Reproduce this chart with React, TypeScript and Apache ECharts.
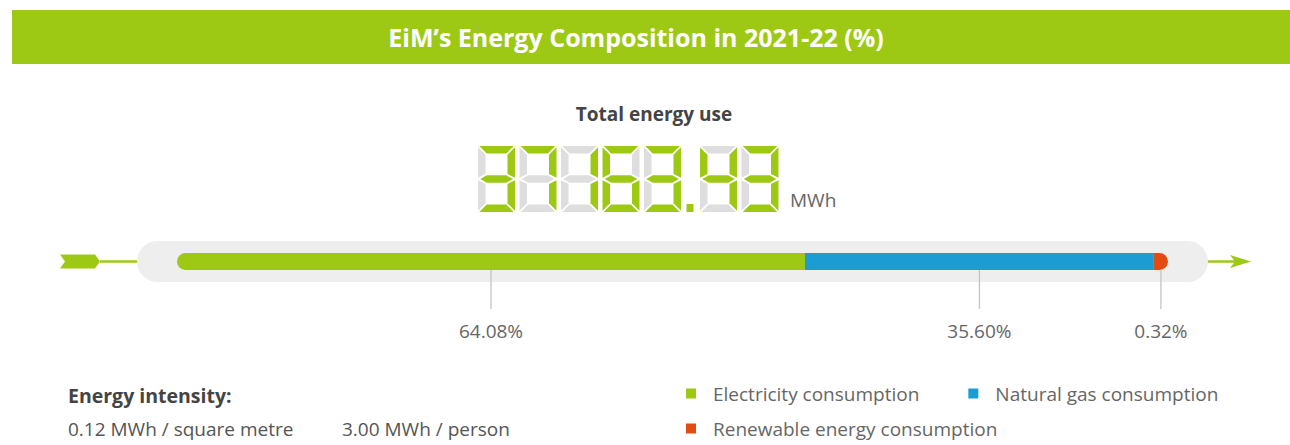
import { useEffect, useRef } from 'react';
import * as echarts from 'echarts';

const TITLE = 'EiM’s Energy Composition in 2021-22 (%)';
const CATEGORIES = ['Electricity consumption', 'Natural gas consumption', 'Renewable energy consumption'];
const SHARES = [64.08, 35.6, 0.32];
const COLORS = ['#9dc915', '#1b9dd4', '#e04c12'];
const TOTAL_LABEL = 'Total energy use';
const TOTAL_VALUE = '37163.43';
const TOTAL_UNIT = 'MWh';
const INTENSITY_TITLE = 'Energy intensity:';
const INTENSITY_VALUES = ['0.12 MWh / square metre', '3.00 MWh / person'];

const GREEN = '#9dc915';
const SEG_OFF = '#dedede';
const FONT = '"Open Sans", Lato, sans-serif';

const SEGMENT_MAP: Record<string, string> = {
  '0': 'abcdef', '1': 'bc', '2': 'abged', '3': 'abgcd', '4': 'fgbc',
  '5': 'afgcd', '6': 'afgedc', '7': 'abc', '8': 'abcdefg', '9': 'abcdfg',
};

function segmentPolys(W: number, H: number, t: number, g: number) {
  const h2 = H / 2;
  return {
    a: [[g, 0], [W - g, 0], [W - g - t, t], [g + t, t]],
    b: [[W, g], [W, h2 - g], [W - t, h2 - t / 2 - g], [W - t, t + g]],
    c: [[W, h2 + g], [W, H - g], [W - t, H - t - g], [W - t, h2 + t / 2 + g]],
    d: [[g + t, H - t], [W - g - t, H - t], [W - g, H], [g, H]],
    e: [[0, h2 + g], [t, h2 + t / 2 + g], [t, H - t - g], [0, H - g]],
    f: [[0, g], [t, t + g], [t, h2 - t / 2 - g], [0, h2 - g]],
    g: [[g + 1, h2], [g + t, h2 - t / 2], [W - g - t, h2 - t / 2], [W - g - 1, h2], [W - g - t, h2 + t / 2], [g + t, h2 + t / 2]],
  } as Record<string, number[][]>;
}

function sevenSegment(value: string, x0: number, y0: number) {
  const W = 37, H = 66, t = 7.5, g = 1.2, pitch = 41.5;
  const polys = segmentPolys(W, H, t, g);
  const els: any[] = [];
  let x = x0;
  for (const ch of value) {
    if (ch === '.') {
      els.push({ type: 'rect', shape: { x: x + 1, y: y0 + H - 8, width: 7, height: 8 }, style: { fill: GREEN } });
      x += 14.5;
      continue;
    }
    const on = SEGMENT_MAP[ch] || '';
    for (const k of 'abcdefg') {
      els.push({
        type: 'polygon',
        shape: { points: polys[k].map(([px, py]) => [x + px, y0 + py]) },
        style: { fill: on.includes(k) ? GREEN : SEG_OFF },
      });
    }
    x += pitch;
  }
  return els;
}

export default function App() {
  const ref = useRef<HTMLDivElement>(null);
  useEffect(() => {
    if (!ref.current) return;
    const chart = echarts.init(ref.current, null, { renderer: 'svg' });

    const starts: number[] = [];
    let acc = 0;
    SHARES.forEach((s) => { starts.push(acc); acc += s; });

    const series = CATEGORIES.map((name, i) => ({
      type: 'custom',
      name,
      color: COLORS[i],
      z: 10,
      encode: { x: [0, 1], y: 3 },
      data: [[starts[i], starts[i] + SHARES[i], SHARES[i], 0]],
      renderItem: (_p: any, api: any) => {
        const s = api.value(0), e = api.value(1), v = api.value(2);
        const p0 = api.coord([s, 0]);
        const p1 = api.coord([e, 0]);
        const cy = p0[1];
        const h = 17;
        const isFirst = i === 0;
        const isLast = i === CATEGORIES.length - 1;
        const cap = isLast ? 11 : 0;
        const r = isFirst ? [h / 2, 0, 0, h / 2] : isLast ? [0, h / 2, h / 2, 0] : 0;
        const w = p1[0] - p0[0] + cap;
        const mid = p0[0] + w / 2;
        return {
          type: 'group',
          children: [
            { type: 'rect', shape: { x: p0[0], y: cy - h / 2, width: w, height: h, r }, style: { fill: COLORS[i] } },
            { type: 'line', shape: { x1: mid, y1: cy + h / 2, x2: mid, y2: cy + h / 2 + 39 }, style: { stroke: '#c4c4c4', lineWidth: 1.3 } },
            { type: 'text', x: mid, y: cy + 69, style: { text: v.toFixed(2) + '%', fill: '#666', fontSize: 19, fontFamily: FONT, align: 'center', verticalAlign: 'middle' } },
          ],
        };
      },
    }));

    const graphic: any[] = [
      // banner
      { type: 'rect', z: 0, shape: { x: 12, y: 10, width: 1278, height: 54 }, style: { fill: GREEN } },
      { type: 'text', z: 1, x: 636, y: 37, style: { text: TITLE, fill: '#fff', fontSize: 25, fontWeight: 'bold', fontFamily: FONT, align: 'center', verticalAlign: 'middle' } },
      // total
      { type: 'text', z: 1, x: 654, y: 114, style: { text: TOTAL_LABEL, fill: '#444', fontSize: 19, fontWeight: 'bold', fontFamily: FONT, align: 'center', verticalAlign: 'middle' } },
      ...sevenSegment(TOTAL_VALUE, 478, 146),
      { type: 'text', z: 1, x: 628, y: 179, style: { text: TOTAL_VALUE, fill: 'rgba(0,0,0,0)', fontSize: 60, fontFamily: FONT, align: 'center', verticalAlign: 'middle' } },
      { type: 'text', z: 1, x: 790, y: 200, style: { text: TOTAL_UNIT, fill: '#666', fontSize: 19, fontFamily: FONT, align: 'left', verticalAlign: 'middle' } },
      // arrow line behind the track
      { type: 'line', z: 0, shape: { x1: 100, y1: 261.5, x2: 1240, y2: 261.5 }, style: { stroke: GREEN, lineWidth: 2.5 } },
      { type: 'polygon', z: 0, shape: { points: [[60, 254.5], [95, 254.5], [100, 261.5], [95, 268.5], [60, 268.5], [65, 261.5]] }, style: { fill: GREEN } },
      { type: 'polygon', z: 0, shape: { points: [[1230, 255], [1251, 261.5], [1230, 268], [1235, 261.5]] }, style: { fill: GREEN } },
      { type: 'rect', z: 1, shape: { x: 137, y: 241, width: 1071, height: 41, r: 20.5 }, style: { fill: '#eeeeee' } },
      // intensity
      { type: 'text', z: 1, x: 68, y: 395, style: { text: INTENSITY_TITLE, fill: '#444', fontSize: 19.5, fontWeight: 'bold', fontFamily: FONT, align: 'left', verticalAlign: 'middle' } },
      { type: 'text', z: 1, x: 68, y: 429, style: { text: INTENSITY_VALUES[0], fill: '#555', fontSize: 19, fontFamily: FONT, align: 'left', verticalAlign: 'middle' } },
      { type: 'text', z: 1, x: 342, y: 429, style: { text: INTENSITY_VALUES[1], fill: '#555', fontSize: 19, fontFamily: FONT, align: 'left', verticalAlign: 'middle' } },
    ];

    const legendCommon = {
      orient: 'horizontal',
      icon: 'rect',
      itemWidth: 10,
      itemHeight: 10,
      selectedMode: false,
      textStyle: { fontSize: 19, color: '#666', fontFamily: FONT, padding: [0, 0, 0, 12] },
    };

    chart.setOption({
      animation: false,
      grid: { left: 177, width: 980, top: 241, height: 41 },
      xAxis: { type: 'value', min: 0, max: 100, show: false },
      yAxis: { type: 'category', data: ['Energy'], show: false },
      legend: [
        { ...legendCommon, left: 681, top: 379, itemGap: 49, data: [CATEGORIES[0], CATEGORIES[1]] },
        { ...legendCommon, left: 681, top: 414, data: [CATEGORIES[2]] },
      ],
      graphic: { elements: graphic },
      series,
    });
    return () => chart.dispose();
  }, []);
  return <div ref={ref} style={{ position: 'absolute', left: 0, top: 0, width: 1290, height: 445 }} />;
}
